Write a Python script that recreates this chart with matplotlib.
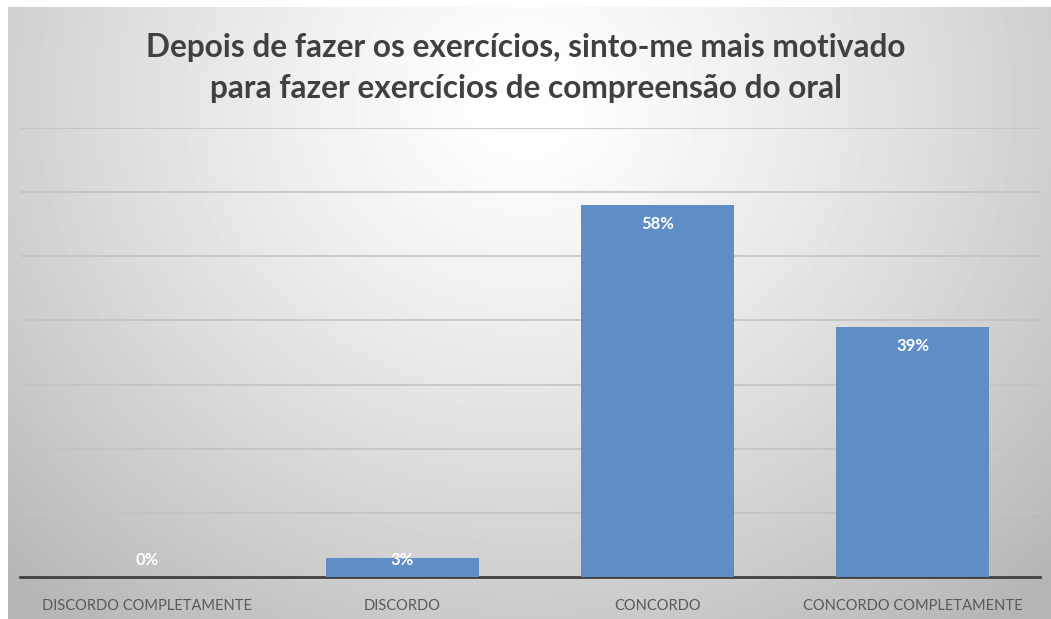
import numpy as np
import matplotlib.pyplot as plt

categories = ["DISCORDO COMPLETAMENTE", "DISCORDO", "CONCORDO", "CONCORDO COMPLETAMENTE"]
values = [0, 3, 58, 39]
title = "Depois de fazer os exercícios, sinto-me mais motivado\npara fazer exercícios de compreensão do oral"

W, H = 1051, 619
fig = plt.figure(figsize=(W / 100, H / 100), dpi=100)
fig.patch.set_facecolor("white")

# radial grey background (white near the title, grey at the edges)
bg = fig.add_axes([8 / W, 0, 1 - 8 / W, 1 - 7 / H])
yy, xx = np.mgrid[0:612, 0:1043]
r = np.sqrt(((xx - 517) / 620.0) ** 2 + ((yy - 95) / 560.0) ** 2)
shade = 1.0 - 0.23 * np.clip(r, 0, 1.2) ** 1.3
bg.imshow(shade, cmap="gray", vmin=0, vmax=1, aspect="auto", interpolation="bilinear")
bg.axis("off")

ax = fig.add_axes([20 / W, 1 - 577 / H, 1020 / W, 449 / H])
ax.patch.set_alpha(0)
x = np.arange(len(categories))
ax.bar(x, values, width=0.6, color="#5f8dc5", zorder=3)
ax.set_xlim(-0.5, len(categories) - 0.5)
ax.set_ylim(0, 70)
ax.set_yticks(np.arange(10, 71, 10))
ax.yaxis.grid(True, color="#c3c3c3", lw=1.2, zorder=0)
ax.tick_params(left=False, labelleft=False, bottom=False)
ax.set_xticks(x)
ax.set_xticklabels(categories, fontsize=10.5, color="#595959", family="Lato")
ax.tick_params(axis="x", pad=12)
for s in ["top", "right", "left"]:
    ax.spines[s].set_visible(False)
ax.spines["bottom"].set_color("#404040")
ax.spines["bottom"].set_linewidth(2)

for i, v in enumerate(values):
    ax.text(i, max(v - 3.0, 2.65), f"{v}%", ha="center", va="center",
            color="white", fontsize=12, fontweight="bold", family="Lato", zorder=4)

fig.text(0.5, 1 - 68 / H, title, ha="center", va="center", fontsize=22.8,
         fontweight="bold", color="#404040", family="Lato", linespacing=1.5)

fig.savefig("out.png", dpi=100)
